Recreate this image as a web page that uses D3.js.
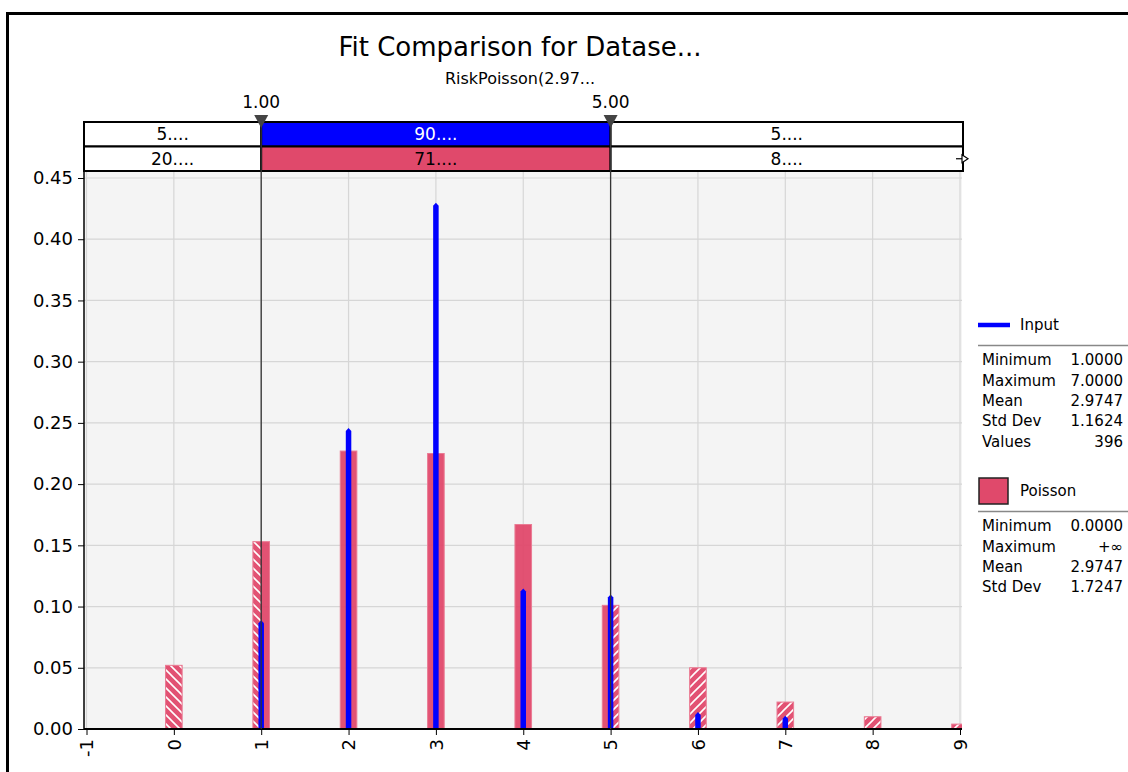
<!DOCTYPE html>
<html>
<head>
<meta charset="utf-8">
<script src="https://cdn.jsdelivr.net/npm/d3@7"></script>
<style>
html,body{margin:0;padding:0;background:#fff;}
svg{display:block;font-family:"DejaVu Sans",Verdana,sans-serif;}
</style>
</head>
<body>
<svg id="chart" width="1128" height="772"></svg>
<script>
// ---- data ----
const categories = [0,1,2,3,4,5,6,7,8,9];
const poissonValues = [0.052,0.153,0.227,0.225,0.167,0.101,0.050,0.022,0.010,0.004];
const inputCategories = [1,2,3,4,5,6,7];
const inputValues = [0.088,0.245,0.429,0.114,0.109,0.013,0.010];
const xTickValues = [-1,0,1,2,3,4,5,6,7,8,9];
const yTickValues = [0,0.05,0.10,0.15,0.20,0.25,0.30,0.35,0.40,0.45];
const markers = [1.00, 5.00];
const bandRow1 = ["5....","90....","5...."];
const bandRow2 = ["20....","71....","8...."];
const inputStatsLabels = ["Minimum","Maximum","Mean","Std Dev","Values"];
const inputStatsValues = ["1.0000","7.0000","2.9747","1.1624","396"];
const poissonStatsLabels = ["Minimum","Maximum","Mean","Std Dev"];
const poissonStatsValues = ["0.0000","+\u221e","2.9747","1.7247"];
const titleText = "Fit Comparison for Datase...";
const subtitleText = "RiskPoisson(2.97...";

const RED = "#e0496b", BLUE = "#0000ff";

const svg = d3.select("#chart");
const defs = svg.append("defs");

// hatch patterns
function hatch(id, d) {
  const p = defs.append("pattern").attr("id", id).attr("patternUnits","userSpaceOnUse")
    .attr("width", 9).attr("height", 9);
  p.append("path").attr("d", d).attr("stroke","#fff").attr("stroke-width",1.6).attr("fill","none");
}
hatch("hatchR", "M0,9 L9,0 M-3,3 L3,-3 M6,12 L12,6");
hatch("hatchL", "M0,0 L9,9 M-3,6 L3,12 M6,-3 L12,3");

// outer frame
svg.append("rect").attr("x",7.5).attr("y",13.5).attr("width",1200).attr("height",900)
  .attr("fill","none").attr("stroke","#000").attr("stroke-width",3);

const plot = {left:84, right:962, top:172, bottom:729};
const x = d3.scaleLinear().domain([-1,9]).range([86.5,960]);
const y = d3.scaleLinear().domain([0,0.45]).range([plot.bottom,178]);

defs.append("clipPath").attr("id","plotClip").append("rect")
  .attr("x",plot.left).attr("y",plot.top).attr("width",plot.right-plot.left).attr("height",plot.bottom-plot.top);

// plot background
svg.append("rect").attr("x",plot.left).attr("y",plot.top).attr("width",plot.right-plot.left)
  .attr("height",plot.bottom-plot.top).attr("fill","#f4f4f4");

// gridlines
svg.append("g").selectAll("line").data(xTickValues).join("line")
  .attr("x1",d=>x(d)).attr("x2",d=>x(d)).attr("y1",plot.top).attr("y2",plot.bottom)
  .attr("stroke","#d6d6d6").attr("stroke-width",1.2);
svg.append("g").selectAll("line").data(yTickValues).join("line")
  .attr("x1",plot.left).attr("x2",plot.right).attr("y1",d=>y(d)).attr("y2",d=>y(d))
  .attr("stroke","#d6d6d6").attr("stroke-width",1.2);

// Poisson bars
const bw = x(0.095) - x(-0.095);
const bars = svg.append("g").attr("clip-path","url(#plotClip)");
bars.selectAll("rect.p").data(categories).join("rect").attr("class","p")
  .attr("x",(d)=>x(d)-bw/2).attr("width",bw)
  .attr("y",(d,i)=>y(poissonValues[i])).attr("height",(d,i)=>y(0)-y(poissonValues[i]))
  .attr("fill",RED).attr("fill-opacity",0.95).attr("stroke","#ea7b93").attr("stroke-width",1);

// hatch overlays outside [markers]
const lo = markers[0], hi = markers[1];
categories.forEach((c,i)=>{
  const x0 = x(c)-bw/2, x1 = x(c)+bw/2;
  const top = y(poissonValues[i]);
  if (x0 < x(lo)) {
    const e = Math.min(x1, x(lo));
    bars.append("rect").attr("x",x0+0.5).attr("y",top+0.5).attr("width",e-x0-1).attr("height",y(0)-top-1)
      .attr("fill","url(#hatchL)");
  }
  if (x1 > x(hi)) {
    const s = Math.max(x0, x(hi));
    bars.append("rect").attr("x",s+0.5).attr("y",top+0.5).attr("width",x1-s-1).attr("height",y(0)-top-1)
      .attr("fill","url(#hatchR)");
  }
});

// Input bars
const ibw = 5.5;
svg.append("g").attr("clip-path","url(#plotClip)").selectAll("path").data(inputCategories).join("path")
  .attr("d",(d,i)=>{
    const xc = x(d), t = y(inputValues[i]), b = y(0);
    return `M${xc-ibw/2},${b} L${xc-ibw/2},${t+2} L${xc},${t-1} L${xc+ibw/2},${t+2} L${xc+ibw/2},${b} Z`;
  })
  .attr("fill",BLUE);

// axes
const yAxis = d3.axisLeft(y).tickValues(yTickValues).tickFormat(d3.format(".2f")).tickSize(6).tickSizeOuter(0);
const gy = svg.append("g").attr("transform",`translate(${plot.left},0)`).call(yAxis);
gy.select(".domain").attr("d",`M0,${plot.top}V${plot.bottom}`).attr("stroke","#000").attr("stroke-width",1.5);
gy.selectAll("text").attr("font-size",18).attr("font-family","DejaVu Sans, Verdana, sans-serif").attr("fill","#000").attr("x",-11);
gy.selectAll(".tick line").attr("stroke","#000");

const xAxis = d3.axisBottom(x).tickValues(xTickValues).tickFormat(d=>String(d)).tickSize(6).tickSizeOuter(0);
const gx = svg.append("g").attr("transform",`translate(0,${plot.bottom})`).call(xAxis);
gx.select(".domain").attr("d",`M${plot.left},0H${plot.right}`).attr("stroke","#000").attr("stroke-width",2);
gx.selectAll(".tick line").attr("stroke","#000");
gx.selectAll("text").attr("font-size",18).attr("font-family","DejaVu Sans, Verdana, sans-serif").attr("fill","#000")
  .attr("transform","rotate(-90)").attr("text-anchor","end").attr("dy","0.35em").attr("x",-10).attr("y",0);

// top bands
const bandTop = 122, rowH = 24.5;
const segs = [[plot.left, x(lo)],[x(lo), x(hi)],[x(hi), plot.right+1]];
const bandG = svg.append("g");
const fills1 = ["#fff", BLUE, "#fff"], fills2 = ["#fff", RED, "#fff"];
const txt1 = ["#000","#fff","#000"];
segs.forEach((s,i)=>{
  bandG.append("rect").attr("x",s[0]).attr("y",bandTop).attr("width",s[1]-s[0]).attr("height",rowH)
    .attr("fill",fills1[i]).attr("stroke","#000").attr("stroke-width",2);
  bandG.append("rect").attr("x",s[0]).attr("y",bandTop+rowH).attr("width",s[1]-s[0]).attr("height",rowH)
    .attr("fill",fills2[i]).attr("stroke","#000").attr("stroke-width",2);
  bandG.append("text").attr("x",(s[0]+s[1])/2).attr("y",bandTop+rowH/2).attr("dy","0.36em")
    .attr("text-anchor","middle").attr("font-size",17).attr("fill",txt1[i]).text(bandRow1[i]);
  bandG.append("text").attr("x",(s[0]+s[1])/2).attr("y",bandTop+rowH*1.5).attr("dy","0.36em")
    .attr("text-anchor","middle").attr("font-size",17).attr("fill","#000").text(bandRow2[i]);
});
// arrow at right of row2
const ay = bandTop + rowH*1.5;
bandG.append("line").attr("x1",plot.right-6).attr("x2",plot.right).attr("y1",ay).attr("y2",ay).attr("stroke","#000").attr("stroke-width",1.2);
bandG.append("path").attr("d",`M${plot.right},${ay-4} L${plot.right+6},${ay} L${plot.right},${ay+4} Z`)
  .attr("fill","#fff").attr("stroke","#000").attr("stroke-width",1.2);

// marker lines
markers.forEach(m=>{
  const mx = x(m);
  svg.append("line").attr("x1",mx).attr("x2",mx).attr("y1",bandTop).attr("y2",plot.bottom)
    .attr("stroke","#333").attr("stroke-width",1.3);
  svg.append("path").attr("d",`M${mx-7},${bandTop-7} L${mx+7},${bandTop-7} L${mx},${bandTop+6} Z`)
    .attr("fill","#444");
  svg.append("text").attr("x",mx).attr("y",108).attr("text-anchor","middle").attr("font-size",17)
    .attr("fill","#000").text(d3.format(".2f")(m));
});

// titles
svg.append("text").attr("x",520).attr("y",56).attr("text-anchor","middle").attr("font-size",26)
  .attr("fill","#000").text(titleText);
svg.append("text").attr("x",520).attr("y",84).attr("text-anchor","middle").attr("font-size",16)
  .attr("fill","#000").text(subtitleText);

// legend
const lg = svg.append("g");
const lx = 978, rx = 1123;
lg.append("line").attr("x1",lx).attr("x2",lx+32).attr("y1",325).attr("y2",325).attr("stroke",BLUE).attr("stroke-width",4.5);
lg.append("text").attr("x",1020).attr("y",325).attr("dy","0.36em").attr("font-size",15).text("Input");
lg.append("line").attr("x1",lx).attr("x2",1128).attr("y1",345.5).attr("y2",345.5).attr("stroke","#888").attr("stroke-width",1.5);
inputStatsLabels.forEach((l,i)=>{
  const yy = 360 + i*20.3;
  lg.append("text").attr("x",982).attr("y",yy).attr("dy","0.36em").attr("font-size",15).text(l);
  lg.append("text").attr("x",rx).attr("y",yy).attr("dy","0.36em").attr("font-size",15).attr("text-anchor","end").text(inputStatsValues[i]);
});
lg.append("rect").attr("x",979).attr("y",478).attr("width",29).attr("height",26).attr("fill",RED)
  .attr("stroke","#222").attr("stroke-width",1.5);
lg.append("text").attr("x",1020).attr("y",491).attr("dy","0.36em").attr("font-size",15).text("Poisson");
lg.append("line").attr("x1",lx).attr("x2",1128).attr("y1",511.5).attr("y2",511.5).attr("stroke","#888").attr("stroke-width",1.5);
poissonStatsLabels.forEach((l,i)=>{
  const yy = 526 + i*20.3;
  lg.append("text").attr("x",982).attr("y",yy).attr("dy","0.36em").attr("font-size",15).text(l);
  lg.append("text").attr("x",rx).attr("y",yy).attr("dy","0.36em").attr("font-size",15).attr("text-anchor","end").text(poissonStatsValues[i]);
});
</script>
</body>
</html>
